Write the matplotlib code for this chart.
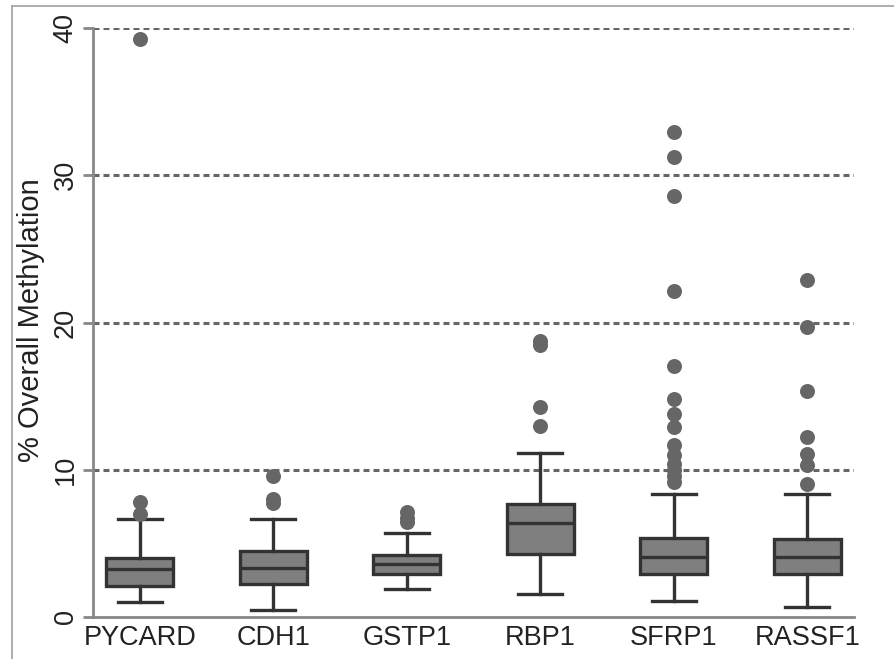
import matplotlib
matplotlib.use("Agg")
import matplotlib.pyplot as plt
from matplotlib.lines import Line2D

plt.rcParams['font.family'] = ['Liberation Sans', 'DejaVu Sans']
plt.rcParams['lines.scale_dashes'] = False

genes = ["PYCARD", "CDH1", "GSTP1", "RBP1", "SFRP1", "RASSF1"]
whisker_low = [1.0, 0.47, 1.88, 1.54, 1.1, 0.70]
q1 = [2.13, 2.24, 2.9, 4.26, 2.9, 2.9]
median = [3.24, 3.35, 3.58, 6.4, 4.1, 4.1]
q3 = [3.99, 4.5, 4.21, 7.7, 5.36, 5.27]
whisker_high = [6.63, 6.63, 5.68, 11.16, 8.33, 8.33]
outliers = [
    [7.0, 7.8, 39.23],
    [7.75, 8.0, 9.6],
    [6.42, 6.75, 7.1],
    [12.97, 14.24, 18.5, 18.75],
    [9.2, 9.6, 10.0, 10.4, 11.0, 11.7, 12.9, 13.8, 14.8, 17.05, 22.14, 28.59, 31.26, 32.96],
    [9.0, 10.3, 11.1, 12.25, 15.35, 19.7, 22.9],
]
yticks = [0, 10, 20, 30, 40]
ylabel = "% Overall Methylation"

W, H = 894, 659
fig = plt.figure(figsize=(W / 100, H / 100), dpi=100)
fig.patch.set_facecolor("white")

# outer frame lines (top and left)
fig.add_artist(Line2D([12 / W, 1], [1 - 6 / H, 1 - 6 / H], transform=fig.transFigure,
                      color="#a0a0a0", lw=1.2))
fig.add_artist(Line2D([12 / W, 12 / W], [0, 1 - 6 / H], transform=fig.transFigure,
                      color="#a0a0a0", lw=1.2))

ax = fig.add_axes([93 / W, (H - 617) / H, (854 - 93) / W, (617 - 28) / H])

stats = []
for i, g in enumerate(genes):
    stats.append(dict(label=g, whislo=whisker_low[i], q1=q1[i], med=median[i],
                      q3=q3[i], whishi=whisker_high[i], fliers=outliers[i]))

dark = "#333333"
ax.bxp(stats, positions=range(1, len(genes) + 1), widths=0.5, patch_artist=True,
       boxprops=dict(facecolor="#7f7f7f", edgecolor=dark, linewidth=2.4),
       medianprops=dict(color=dark, linewidth=2.4),
       whiskerprops=dict(color=dark, linewidth=2.4),
       capprops=dict(color=dark, linewidth=2.4),
       capwidths=0.33,
       flierprops=dict(marker="o", markersize=10.8, markerfacecolor="#666666",
                       markeredgecolor="#666666", markeredgewidth=0),
       zorder=3)

ax.set_xlim(0.65, 6.35)
ax.set_ylim(0, 40)
ax.set_yticks(yticks)
ax.set_yticklabels([str(t) for t in yticks], rotation=90, va="center", fontsize=19.5)
for t in yticks[1:]:
    ax.axhline(t, color="#666666", lw=2.2, linestyle=(0, (4.3, 2.9)), zorder=1)

for s in ["top", "right"]:
    ax.spines[s].set_visible(False)
for s in ["left", "bottom"]:
    ax.spines[s].set_color("#888888")
    ax.spines[s].set_linewidth(2.0)
ax.tick_params(axis="y", length=7.2, width=2.0, color="#888888", pad=3, labelcolor="#222222")
ax.tick_params(axis="x", length=0, pad=6, labelsize=19.5, labelcolor="#222222")
ax.set_xticklabels(genes)

fig.text(31 / W, 1 - 320 / H, ylabel, rotation=90, ha="center", va="center",
         fontsize=21, color="#222222")

fig.savefig("out.png", dpi=100, facecolor="white")
